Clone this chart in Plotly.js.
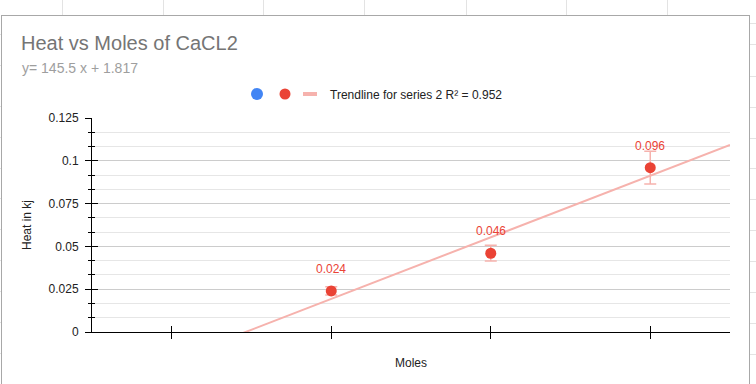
<!DOCTYPE html>
<html><head><meta charset="utf-8">
<script src="https://cdn.plot.ly/plotly-3.0.1.min.js"></script>
<style>
html,body{margin:0;padding:0;background:#fff;width:756px;height:384px;overflow:hidden;position:relative}
.ln{position:absolute;background:#e3e3e3}
#box{position:absolute;left:1px;top:15px;width:747px;height:380px;border:1px solid #a8a8a8;background:#fff}
#chart{position:absolute;left:0;top:0;width:756px;height:384px}
</style></head><body>
<div id="bg"></div><div id="box"></div><div id="chart"></div>
<script>
// ---- data ----
const xPositions = [2, 3, 4];
const heat = [0.024, 0.046, 0.096];
const series1 = [null, null, null];
const dataLabels = ['0.024', '0.046', '0.096'];
const errorPercent = 10;
const xTicks = [1, 2, 3, 4];
const yTicks = [0, 0.025, 0.05, 0.075, 0.1, 0.125];
const yTickLabels = ['0', '0.025', '0.05', '0.075', '0.1', '0.125'];
const titleText = 'Heat vs Moles of CaCL2';
const subtitleText = 'y= 145.5 x + 1.817';
const trendName = 'Trendline for series 2 R² = 0.952';

// ---- spreadsheet background lines (decoration) ----
const bg = document.getElementById('bg');
const colLines = [62, 163, 263, 364, 466, 566, 667];
const rowLinesRight = [23, 44, 76, 107, 138, 168, 199, 230, 261, 292, 323, 354];
const rowLinesLeft = [34, 65, 106, 137, 168, 198, 229, 260, 291, 322, 353];
colLines.forEach(x => { const d = document.createElement('div'); d.className = 'ln'; d.style.cssText = `left:${x}px;top:0;width:1px;height:15px`; bg.appendChild(d); });
rowLinesRight.forEach(y => { const d = document.createElement('div'); d.className = 'ln'; d.style.cssText = `left:750px;top:${y}px;width:6px;height:1px`; bg.appendChild(d); });
rowLinesLeft.forEach(y => { const d = document.createElement('div'); d.className = 'ln'; d.style.cssText = `left:0;top:${y}px;width:1px;height:1px`; bg.appendChild(d); });

// ---- trendline by least squares ----
const n = xPositions.length;
const mx = xPositions.reduce((a, b) => a + b, 0) / n;
const my = heat.reduce((a, b) => a + b, 0) / n;
let sxy = 0, sxx = 0;
for (let i = 0; i < n; i++) { sxy += (xPositions[i] - mx) * (heat[i] - my); sxx += (xPositions[i] - mx) ** 2; }
const slope = sxy / sxx, intercept = my - slope * mx;
const xRange = [0.5, 4.5];
const trendX = xRange.slice();
const trendY = trendX.map(x => slope * x + intercept);

const RED = '#ea4335', BLUE = '#4285f4', PINK = '#f6b2ad';
const FONT = 'Arial, "Liberation Sans", sans-serif';
const W = 756, H = 384;
const M = { l: 92, r: 26, t: 118, b: 52 };
const plotW = W - M.l - M.r, plotH = H - M.t - M.b;

const traces = [
  { x: xPositions, y: series1, type: 'scatter', mode: 'markers', name: '',
    marker: { color: BLUE, size: 12 }, legend: 'legend', hoverinfo: 'skip' },
  { x: xPositions, y: heat, type: 'scatter', mode: 'markers', name: '',
    marker: { color: RED, size: 11 }, legend: 'legend2',
    error_y: { type: 'percent', value: errorPercent, color: PINK, thickness: 1.5, width: 6 } },
  { x: trendX, y: trendY, type: 'scatter', mode: 'lines', name: trendName,
    line: { color: PINK, width: 2 }, showlegend: false, hoverinfo: 'skip' },
  { x: [null], y: [null], type: 'scatter', mode: 'markers', name: trendName, legend: 'legend3',
    marker: { symbol: 'line-ew-open', size: 10, color: PINK, line: { color: PINK, width: 4 } }, hoverinfo: 'skip' },
  { x: [xTicks[0]], y: [null], xaxis: 'x2', yaxis: 'y2', type: 'scatter', mode: 'markers',
    showlegend: false, hoverinfo: 'skip', marker: { opacity: 0 } }
];

const annotations = xPositions.map((x, i) => ({
  x: x, y: heat[i], text: dataLabels[i], showarrow: false, yshift: 22,
  font: { size: 12, color: RED, family: FONT }
}));
annotations.push({
  xref: 'paper', yref: 'paper', x: (20 - M.l) / plotW, y: (H - M.b - 68.3) / plotH,
  xanchor: 'left', yanchor: 'middle', showarrow: false, text: subtitleText,
  font: { size: 14, color: '#9e9e9e', family: FONT }
});

const legendBase = { orientation: 'h', xref: 'container', yref: 'container', xanchor: 'left', yanchor: 'middle',
  y: 1 - 94 / H, bgcolor: 'rgba(0,0,0,0)', font: { size: 12, color: '#222', family: FONT } };

const layout = {
  width: W, height: H,
  margin: M,
  paper_bgcolor: 'rgba(0,0,0,0)', plot_bgcolor: 'rgba(0,0,0,0)',
  font: { family: FONT, size: 12, color: '#222' },
  title: { text: titleText, xref: 'container', x: 21 / W, xanchor: 'left', yref: 'container', y: 1 - 36 / H, yanchor: 'top',
    font: { size: 20, color: '#757575', family: FONT } },
  showlegend: true,
  legend: Object.assign({}, legendBase, { x: (257 - 20) / W }),
  legend2: Object.assign({}, legendBase, { x: (285 - 20) / W }),
  legend3: Object.assign({}, legendBase, { x: (310 - 20) / W }),
  xaxis: { range: xRange, tickmode: 'array', tickvals: xTicks, showticklabels: false, ticks: 'outside', ticklen: 6,
    tickcolor: '#000', tickwidth: 1, showline: true, linecolor: '#000', linewidth: 1, showgrid: false, zeroline: false,
    title: { text: 'Moles', font: { size: 12, color: '#222' }, standoff: 20 } },
  xaxis2: { overlaying: 'x', anchor: 'y2', range: xRange, tickmode: 'array', tickvals: xTicks, showticklabels: false,
    ticks: 'inside', ticklen: 6, tickcolor: '#000', showline: false, showgrid: false, zeroline: false },
  yaxis: { range: [0, 0.125], tickmode: 'array', tickvals: yTicks, ticktext: yTickLabels, ticks: 'outside', ticklen: 6,
    tickcolor: '#000', showline: true, linecolor: '#000', linewidth: 1, gridcolor: '#cccccc', zeroline: false,
    tickfont: { size: 12, color: '#222' }, ticklabelstandoff: 4,
    minor: { tickmode: 'linear', tick0: 0, dtick: 0.125 / 15, ticks: 'outside', ticklen: 3, tickcolor: '#000', showgrid: true, gridcolor: '#e6e6e6' },
    title: { text: 'Heat in kj', font: { size: 12, color: '#222' }, standoff: 14 } },
  yaxis2: { overlaying: 'y', anchor: 'x2', side: 'left', range: [0, 0.125], tickmode: 'array', tickvals: yTicks,
    showticklabels: false, ticks: 'inside', ticklen: 6, tickcolor: '#000', showline: false, showgrid: false, zeroline: false,
    minor: { tickmode: 'linear', tick0: 0, dtick: 0.125 / 15, ticks: 'inside', ticklen: 3, tickcolor: '#000', showgrid: false } },
  annotations: annotations
};

Plotly.newPlot('chart', traces, layout, { displayModeBar: false, staticPlot: true });
</script>
</body></html>
